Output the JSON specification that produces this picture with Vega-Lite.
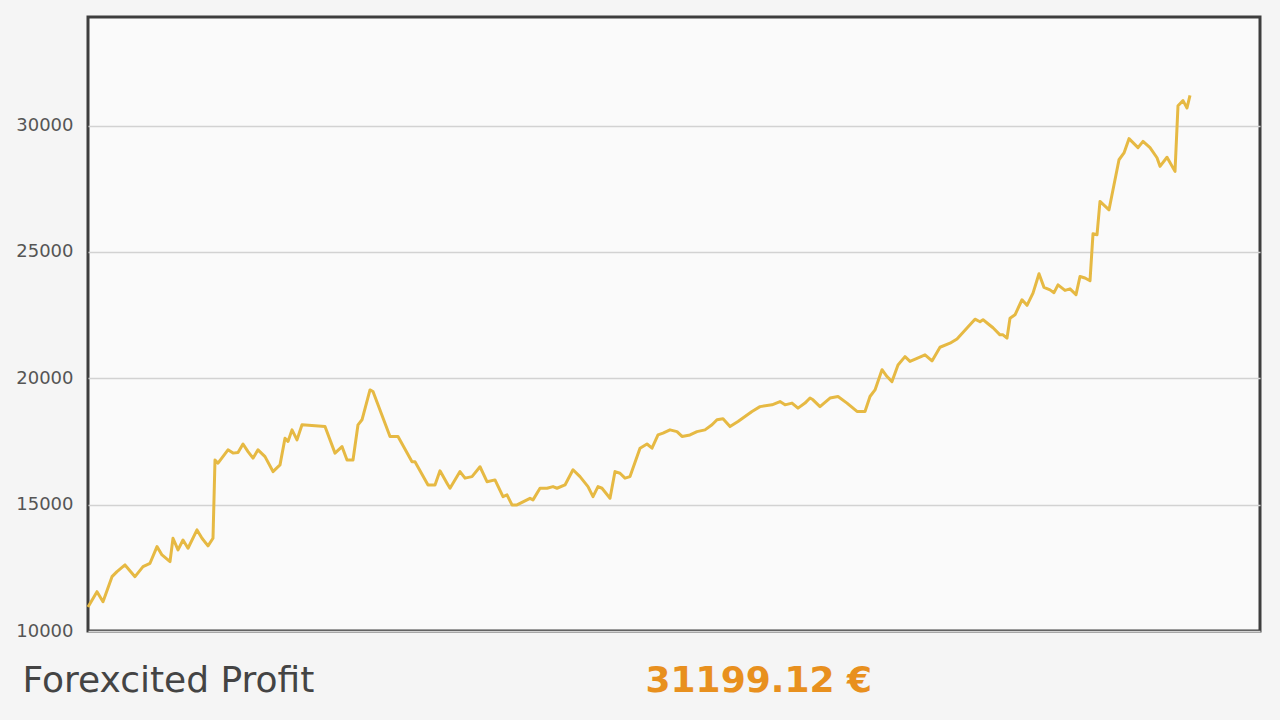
{
  "$schema": "https://vega.github.io/schema/vega-lite/v6.json",
  "width": 1172,
  "height": 614,
  "autosize": {"type": "none"},
  "padding": {"left": 88, "top": 17, "right": 20, "bottom": 89},
  "background": "#f5f5f5",
  "config": {
    "view": {"fill": "#fafafa", "stroke": "#3e3e3e", "strokeWidth": 3}
  },
  "data": {
    "values": [
      {"t": 0, "profit": 10950}, {"t": 9, "profit": 11556}, {"t": 15, "profit": 11160}, {"t": 24, "profit": 12150},
      {"t": 29, "profit": 12350}, {"t": 37, "profit": 12614}, {"t": 47, "profit": 12150}, {"t": 55, "profit": 12546},
      {"t": 62, "profit": 12680}, {"t": 69, "profit": 13340}, {"t": 74, "profit": 13010}, {"t": 82, "profit": 12745},
      {"t": 85, "profit": 13670}, {"t": 90, "profit": 13210}, {"t": 95, "profit": 13600}, {"t": 100, "profit": 13275},
      {"t": 109, "profit": 14000}, {"t": 114, "profit": 13670}, {"t": 120, "profit": 13370}, {"t": 125, "profit": 13670},
      {"t": 127, "profit": 16770}, {"t": 130, "profit": 16640}, {"t": 140, "profit": 17170}, {"t": 145, "profit": 17040},
      {"t": 150, "profit": 17065}, {"t": 155, "profit": 17400}, {"t": 160, "profit": 17100}, {"t": 165, "profit": 16840},
      {"t": 170, "profit": 17170}, {"t": 177, "profit": 16900}, {"t": 185, "profit": 16310}, {"t": 192, "profit": 16575},
      {"t": 197, "profit": 17630}, {"t": 200, "profit": 17500}, {"t": 204, "profit": 17960}, {"t": 209, "profit": 17564},
      {"t": 214, "profit": 18160}, {"t": 237, "profit": 18090}, {"t": 247, "profit": 17040}, {"t": 254, "profit": 17300},
      {"t": 259, "profit": 16770}, {"t": 265, "profit": 16770}, {"t": 270, "profit": 18160}, {"t": 274, "profit": 18360},
      {"t": 282, "profit": 19540}, {"t": 285, "profit": 19480}, {"t": 302, "profit": 17700}, {"t": 310, "profit": 17700},
      {"t": 324, "profit": 16700}, {"t": 327, "profit": 16700}, {"t": 340, "profit": 15780}, {"t": 347, "profit": 15780},
      {"t": 352, "profit": 16340}, {"t": 359, "profit": 15850}, {"t": 362, "profit": 15650}, {"t": 372, "profit": 16310},
      {"t": 377, "profit": 16050}, {"t": 384, "profit": 16110}, {"t": 392, "profit": 16500}, {"t": 399, "profit": 15910},
      {"t": 407, "profit": 15980}, {"t": 415, "profit": 15320}, {"t": 419, "profit": 15390}, {"t": 424, "profit": 14990},
      {"t": 429, "profit": 14990}, {"t": 439, "profit": 15190}, {"t": 442, "profit": 15250}, {"t": 445, "profit": 15190},
      {"t": 452, "profit": 15650}, {"t": 459, "profit": 15650}, {"t": 465, "profit": 15715}, {"t": 469, "profit": 15650},
      {"t": 477, "profit": 15780}, {"t": 485, "profit": 16380}, {"t": 492, "profit": 16110}, {"t": 500, "profit": 15715},
      {"t": 505, "profit": 15320}, {"t": 510, "profit": 15715}, {"t": 514, "profit": 15650}, {"t": 522, "profit": 15255},
      {"t": 527, "profit": 16310}, {"t": 532, "profit": 16245}, {"t": 537, "profit": 16050}, {"t": 542, "profit": 16110},
      {"t": 552, "profit": 17235}, {"t": 559, "profit": 17400}, {"t": 564, "profit": 17235}, {"t": 570, "profit": 17760},
      {"t": 575, "profit": 17830}, {"t": 582, "profit": 17960}, {"t": 589, "profit": 17890}, {"t": 594, "profit": 17700},
      {"t": 602, "profit": 17760}, {"t": 609, "profit": 17890}, {"t": 617, "profit": 17960}, {"t": 624, "profit": 18160},
      {"t": 629, "profit": 18360}, {"t": 635, "profit": 18400}, {"t": 642, "profit": 18090}, {"t": 650, "profit": 18290},
      {"t": 664, "profit": 18690}, {"t": 672, "profit": 18880}, {"t": 684, "profit": 18950}, {"t": 692, "profit": 19080},
      {"t": 697, "profit": 18950}, {"t": 704, "profit": 19020}, {"t": 710, "profit": 18820}, {"t": 717, "profit": 19020},
      {"t": 722, "profit": 19220}, {"t": 725, "profit": 19150}, {"t": 732, "profit": 18880}, {"t": 742, "profit": 19220},
      {"t": 750, "profit": 19280}, {"t": 759, "profit": 19020}, {"t": 769, "profit": 18690}, {"t": 777, "profit": 18690},
      {"t": 782, "profit": 19280}, {"t": 787, "profit": 19540}, {"t": 794, "profit": 20340}, {"t": 799, "profit": 20070},
      {"t": 804, "profit": 19870}, {"t": 810, "profit": 20530}, {"t": 817, "profit": 20860}, {"t": 822, "profit": 20670},
      {"t": 829, "profit": 20790}, {"t": 837, "profit": 20930}, {"t": 844, "profit": 20690}, {"t": 852, "profit": 21230},
      {"t": 862, "profit": 21390}, {"t": 869, "profit": 21560}, {"t": 879, "profit": 21990}, {"t": 887, "profit": 22340},
      {"t": 892, "profit": 22240}, {"t": 895, "profit": 22320}, {"t": 900, "profit": 22160}, {"t": 905, "profit": 22000},
      {"t": 912, "profit": 21720}, {"t": 915, "profit": 21720}, {"t": 919, "profit": 21590}, {"t": 922, "profit": 22380},
      {"t": 927, "profit": 22515}, {"t": 934, "profit": 23110}, {"t": 939, "profit": 22890}, {"t": 945, "profit": 23370},
      {"t": 951, "profit": 24140}, {"t": 956, "profit": 23600}, {"t": 962, "profit": 23500}, {"t": 966, "profit": 23390},
      {"t": 970, "profit": 23700}, {"t": 977, "profit": 23480}, {"t": 982, "profit": 23540}, {"t": 988, "profit": 23310},
      {"t": 992, "profit": 24030}, {"t": 997, "profit": 23970}, {"t": 1002, "profit": 23860}, {"t": 1005, "profit": 25720},
      {"t": 1009, "profit": 25680}, {"t": 1012, "profit": 27000}, {"t": 1021, "profit": 26670}, {"t": 1031, "profit": 28650},
      {"t": 1036, "profit": 28920}, {"t": 1041, "profit": 29485}, {"t": 1046, "profit": 29290}, {"t": 1050, "profit": 29130},
      {"t": 1055, "profit": 29380}, {"t": 1062, "profit": 29130}, {"t": 1069, "profit": 28730}, {"t": 1072, "profit": 28390},
      {"t": 1079, "profit": 28750}, {"t": 1087, "profit": 28190}, {"t": 1090, "profit": 30790}, {"t": 1095, "profit": 30990},
      {"t": 1099, "profit": 30700}, {"t": 1102, "profit": 31199.12}
    ]
  },
  "mark": {"type": "line", "color": "#e6b943", "strokeWidth": 3, "strokeJoin": "round"},
  "encoding": {
    "x": {
      "field": "t",
      "type": "quantitative",
      "scale": {"domain": [0, 1172], "nice": false, "zero": false},
      "axis": {
        "grid": false, "domain": false, "ticks": false, "labels": false,
        "title": "31199.12 €",
        "titleFont": "DejaVu Sans", "titleFontSize": 36, "titleFontWeight": "bold",
        "titleColor": "#e8901e",
        "titleAnchor": "start", "titleAlign": "left", "titleBaseline": "alphabetic",
        "titleX": 557, "titleY": 60
      }
    },
    "y": {
      "field": "profit",
      "type": "quantitative",
      "scale": {"domain": [10000, 34300], "nice": false, "zero": false},
      "axis": {
        "values": [10000, 15000, 20000, 25000, 30000],
        "format": "d",
        "grid": true, "gridColor": "#d2d2d2", "gridWidth": 1.5,
        "domain": false, "ticks": false,
        "labelFont": "DejaVu Sans", "labelFontSize": 18, "labelColor": "#555555",
        "labelPadding": 15,
        "title": "Forexcited Profit",
        "titleFont": "DejaVu Sans", "titleFontSize": 36, "titleFontWeight": "normal",
        "titleColor": "#444444", "titleAngle": 0,
        "titleAnchor": "start", "titleAlign": "left", "titleBaseline": "alphabetic",
        "titleX": -66, "titleY": 674
      }
    }
  }
}
